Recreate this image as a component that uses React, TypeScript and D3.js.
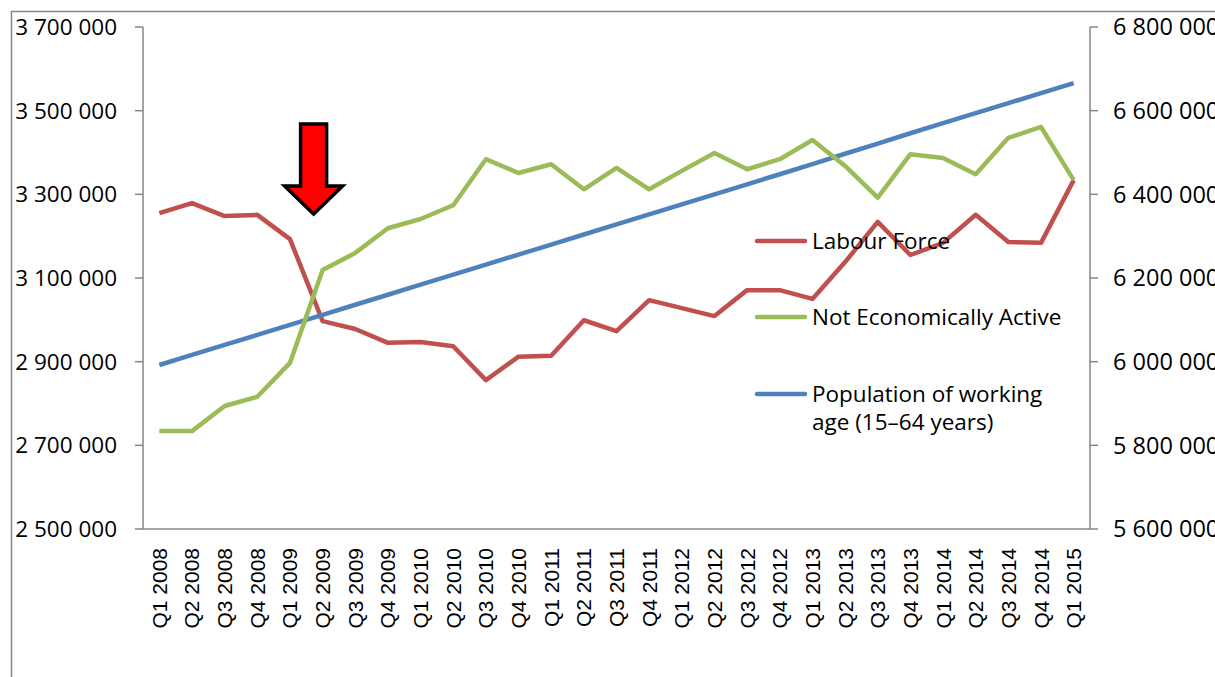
import React from "react";
import * as d3 from "d3";

// quarters on the x axis
const quarters = [
  "Q1 2008", "Q2 2008", "Q3 2008", "Q4 2008",
  "Q1 2009", "Q2 2009", "Q3 2009", "Q4 2009",
  "Q1 2010", "Q2 2010", "Q3 2010", "Q4 2010",
  "Q1 2011", "Q2 2011", "Q3 2011", "Q4 2011",
  "Q1 2012", "Q2 2012", "Q3 2012", "Q4 2012",
  "Q1 2013", "Q2 2013", "Q3 2013", "Q4 2013",
  "Q1 2014", "Q2 2014", "Q3 2014", "Q4 2014",
  "Q1 2015",
];

// left axis
const labourForce = [
  3255000, 3279000, 3248000, 3251000, 3193000, 2997000, 2978000, 2945000,
  2947000, 2937000, 2856000, 2912000, 2914000, 2999000, 2973000, 3047000,
  3028000, 3009000, 3071000, 3071000, 3050000, 3138000, 3234000, 3155000,
  3184000, 3251000, 3186000, 3184000, 3334000,
];
const notActive = [
  2734000, 2734000, 2794000, 2816000, 2897000, 3119000, 3160000, 3219000,
  3241000, 3274000, 3384000, 3351000, 3372000, 3312000, 3363000, 3312000,
  3356000, 3399000, 3360000, 3384000, 3430000, 3368000, 3292000, 3396000,
  3387000, 3348000, 3435000, 3461000, 3334000,
];
// right axis
const population = [
  5992000, 6016000, 6040000, 6064000, 6088000, 6112000, 6136000, 6160000,
  6184000, 6208000, 6232000, 6256000, 6280000, 6304000, 6328000, 6352000,
  6376000, 6400000, 6424000, 6448000, 6472000, 6497000, 6521000, 6546000,
  6570000, 6594000, 6618000, 6642000, 6666000,
];

const leftTicks = [2500000, 2700000, 2900000, 3100000, 3300000, 3500000, 3700000];
const rightTicks = [5600000, 5800000, 6000000, 6200000, 6400000, 6600000, 6800000];

const seriesNames = ["Labour Force", "Not Economically Active", "Population of working", "age (15\u201364 years)"];

const W = 1215, H = 677;
const plot = { left: 143, right: 1090, top: 27, bottom: 529 };
const axisColor = "#868686";
const calibri = "'Open Sans', Lato, sans-serif";

const fmt = (v: number) => d3.format(",")(v).replace(/,/g, " ");

export default function App() {
  const x = d3.scaleBand<string>().domain(quarters).range([plot.left, plot.right]);
  const xc = (q: string) => (x(q) as number) + x.bandwidth() / 2;
  const yL = d3.scaleLinear().domain([2500000, 3700000]).range([plot.bottom, plot.top]);
  const yR = d3.scaleLinear().domain([5600000, 6800000]).range([plot.bottom, plot.top]);

  const lineL = d3.line<number>().x((_, i) => xc(quarters[i])).y(d => yL(d));
  const lineR = d3.line<number>().x((_, i) => xc(quarters[i])).y(d => yR(d));

  // arrow pointing at the Q2 2009 drop
  const ax = xc(quarters[5]) - 9;
  const arrow = [
    [ax - 13, 124], [ax + 13, 124], [ax + 13, 186], [ax + 29, 186],
    [ax, 214], [ax - 29, 186], [ax - 13, 186],
  ].map(p => p.join(",")).join(" ");

  const legend = [
    { color: "#C0504D", y: 241, lines: [seriesNames[0]] },
    { color: "#9BBB59", y: 317, lines: [seriesNames[1]] },
    { color: "#4F81BD", y: 394, lines: [seriesNames[2], seriesNames[3]] },
  ];

  return (
    <svg width={W} height={H} style={{ position: "fixed", left: 0, top: 0, background: "#fff", overflow: "hidden" }}>
      {/* chart area border */}
      <path d={`M11.5,${H} V11.5 H${W}`} fill="none" stroke={axisColor} strokeWidth={1.5} />

      {/* left axis */}
      <line x1={plot.left} x2={plot.left} y1={plot.top} y2={plot.bottom} stroke={axisColor} strokeWidth={1.5} />
      {leftTicks.map(t => (
        <g key={t}>
          <line x1={plot.left - 8} x2={plot.left} y1={yL(t)} y2={yL(t)} stroke={axisColor} strokeWidth={1.5} />
          <text x={117} y={yL(t)} dy="0.35em" textAnchor="end" fontFamily={calibri} fontSize={22.5}>{fmt(t)}</text>
        </g>
      ))}

      {/* right axis (labels run past the right edge, as in the original) */}
      <line x1={plot.right} x2={plot.right} y1={plot.top} y2={plot.bottom} stroke={axisColor} strokeWidth={1.5} />
      {rightTicks.map(t => (
        <g key={t}>
          <line x1={plot.right} x2={plot.right + 8} y1={yR(t)} y2={yR(t)} stroke={axisColor} strokeWidth={1.5} />
          <text x={1113} y={yR(t)} dy="0.35em" fontFamily={calibri} fontSize={23.5}>{fmt(t)}</text>
        </g>
      ))}

      {/* x axis */}
      <line x1={plot.left} x2={plot.right} y1={plot.bottom} y2={plot.bottom} stroke={axisColor} strokeWidth={1.5} />
      {quarters.map(q => (
        <text key={q} transform={`translate(${xc(q) + 7.5},548) rotate(-90)`} textAnchor="end"
          fontFamily="'Liberation Sans', Arial, sans-serif" fontSize={21}>{q}</text>
      ))}

      {/* series */}
      <path d={lineL(labourForce) || ""} fill="none" stroke="#C0504D" strokeWidth={4.5} strokeLinejoin="round" />
      <path d={lineR(population) || ""} fill="none" stroke="#4F81BD" strokeWidth={4.5} strokeLinejoin="round" />
      <path d={lineL(notActive) || ""} fill="none" stroke="#9BBB59" strokeWidth={4.5} strokeLinejoin="round" />

      {/* legend */}
      {legend.map(l => (
        <g key={l.color}>
          <line x1={757} x2={805} y1={l.y} y2={l.y} stroke={l.color} strokeWidth={4.5} strokeLinecap="round" />
          {l.lines.map((s, i) => (
            <text key={s} x={812} y={l.y + 8 + i * 28} fontFamily={calibri} fontSize={22.5}>{s}</text>
          ))}
        </g>
      ))}

      <polygon points={arrow} fill="#FF0000" stroke="#000" strokeWidth={3.5} />
    </svg>
  );
}
